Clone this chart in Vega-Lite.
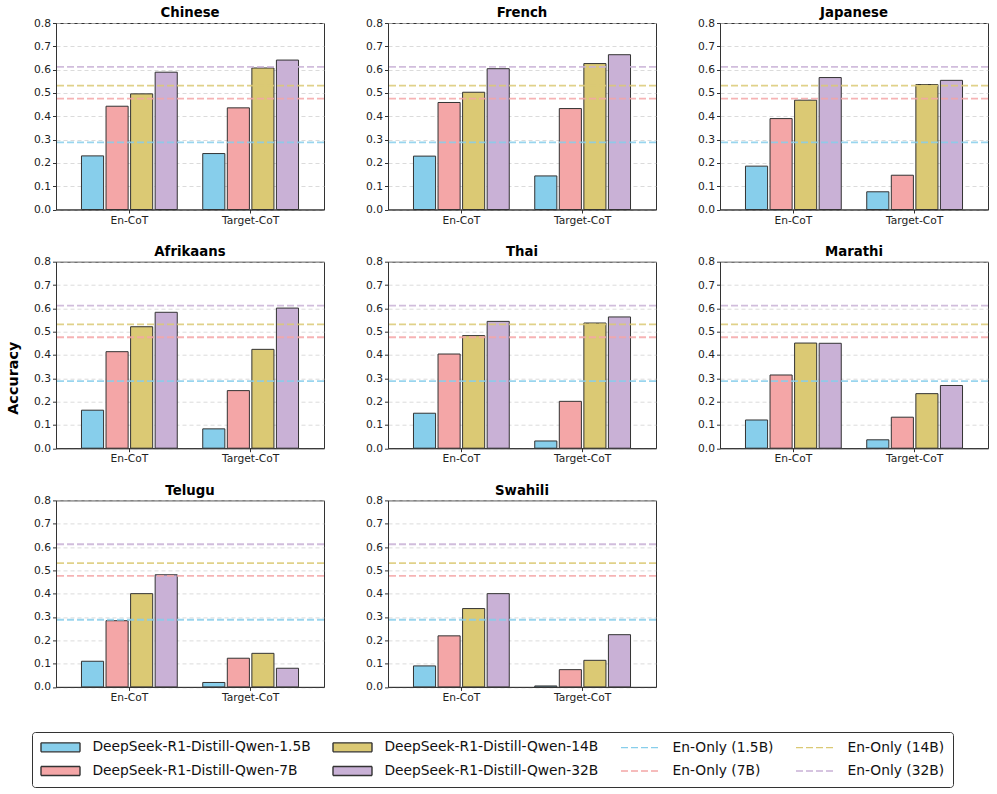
{
  "$schema": "https://vega.github.io/schema/vega-lite/v6.json",
  "background": "white",
  "padding": 5,
  "datasets": {
    "scores": [
      {"lang": "Chinese", "cot": "En-CoT", "series": "DeepSeek-R1-Distill-Qwen-1.5B", "acc": 0.230},
      {"lang": "Chinese", "cot": "En-CoT", "series": "DeepSeek-R1-Distill-Qwen-7B", "acc": 0.443},
      {"lang": "Chinese", "cot": "En-CoT", "series": "DeepSeek-R1-Distill-Qwen-14B", "acc": 0.496},
      {"lang": "Chinese", "cot": "En-CoT", "series": "DeepSeek-R1-Distill-Qwen-32B", "acc": 0.589},
      {"lang": "Chinese", "cot": "Target-CoT", "series": "DeepSeek-R1-Distill-Qwen-1.5B", "acc": 0.240},
      {"lang": "Chinese", "cot": "Target-CoT", "series": "DeepSeek-R1-Distill-Qwen-7B", "acc": 0.436},
      {"lang": "Chinese", "cot": "Target-CoT", "series": "DeepSeek-R1-Distill-Qwen-14B", "acc": 0.607},
      {"lang": "Chinese", "cot": "Target-CoT", "series": "DeepSeek-R1-Distill-Qwen-32B", "acc": 0.641},
      {"lang": "French", "cot": "En-CoT", "series": "DeepSeek-R1-Distill-Qwen-1.5B", "acc": 0.229},
      {"lang": "French", "cot": "En-CoT", "series": "DeepSeek-R1-Distill-Qwen-7B", "acc": 0.459},
      {"lang": "French", "cot": "En-CoT", "series": "DeepSeek-R1-Distill-Qwen-14B", "acc": 0.503},
      {"lang": "French", "cot": "En-CoT", "series": "DeepSeek-R1-Distill-Qwen-32B", "acc": 0.604},
      {"lang": "French", "cot": "Target-CoT", "series": "DeepSeek-R1-Distill-Qwen-1.5B", "acc": 0.144},
      {"lang": "French", "cot": "Target-CoT", "series": "DeepSeek-R1-Distill-Qwen-7B", "acc": 0.433},
      {"lang": "French", "cot": "Target-CoT", "series": "DeepSeek-R1-Distill-Qwen-14B", "acc": 0.626},
      {"lang": "French", "cot": "Target-CoT", "series": "DeepSeek-R1-Distill-Qwen-32B", "acc": 0.664},
      {"lang": "Japanese", "cot": "En-CoT", "series": "DeepSeek-R1-Distill-Qwen-1.5B", "acc": 0.186},
      {"lang": "Japanese", "cot": "En-CoT", "series": "DeepSeek-R1-Distill-Qwen-7B", "acc": 0.390},
      {"lang": "Japanese", "cot": "En-CoT", "series": "DeepSeek-R1-Distill-Qwen-14B", "acc": 0.469},
      {"lang": "Japanese", "cot": "En-CoT", "series": "DeepSeek-R1-Distill-Qwen-32B", "acc": 0.566},
      {"lang": "Japanese", "cot": "Target-CoT", "series": "DeepSeek-R1-Distill-Qwen-1.5B", "acc": 0.076},
      {"lang": "Japanese", "cot": "Target-CoT", "series": "DeepSeek-R1-Distill-Qwen-7B", "acc": 0.147},
      {"lang": "Japanese", "cot": "Target-CoT", "series": "DeepSeek-R1-Distill-Qwen-14B", "acc": 0.536},
      {"lang": "Japanese", "cot": "Target-CoT", "series": "DeepSeek-R1-Distill-Qwen-32B", "acc": 0.554},
      {"lang": "Afrikaans", "cot": "En-CoT", "series": "DeepSeek-R1-Distill-Qwen-1.5B", "acc": 0.163},
      {"lang": "Afrikaans", "cot": "En-CoT", "series": "DeepSeek-R1-Distill-Qwen-7B", "acc": 0.414},
      {"lang": "Afrikaans", "cot": "En-CoT", "series": "DeepSeek-R1-Distill-Qwen-14B", "acc": 0.521},
      {"lang": "Afrikaans", "cot": "En-CoT", "series": "DeepSeek-R1-Distill-Qwen-32B", "acc": 0.583},
      {"lang": "Afrikaans", "cot": "Target-CoT", "series": "DeepSeek-R1-Distill-Qwen-1.5B", "acc": 0.083},
      {"lang": "Afrikaans", "cot": "Target-CoT", "series": "DeepSeek-R1-Distill-Qwen-7B", "acc": 0.247},
      {"lang": "Afrikaans", "cot": "Target-CoT", "series": "DeepSeek-R1-Distill-Qwen-14B", "acc": 0.424},
      {"lang": "Afrikaans", "cot": "Target-CoT", "series": "DeepSeek-R1-Distill-Qwen-32B", "acc": 0.601},
      {"lang": "Thai", "cot": "En-CoT", "series": "DeepSeek-R1-Distill-Qwen-1.5B", "acc": 0.150},
      {"lang": "Thai", "cot": "En-CoT", "series": "DeepSeek-R1-Distill-Qwen-7B", "acc": 0.404},
      {"lang": "Thai", "cot": "En-CoT", "series": "DeepSeek-R1-Distill-Qwen-14B", "acc": 0.483},
      {"lang": "Thai", "cot": "En-CoT", "series": "DeepSeek-R1-Distill-Qwen-32B", "acc": 0.544},
      {"lang": "Thai", "cot": "Target-CoT", "series": "DeepSeek-R1-Distill-Qwen-1.5B", "acc": 0.031},
      {"lang": "Thai", "cot": "Target-CoT", "series": "DeepSeek-R1-Distill-Qwen-7B", "acc": 0.201},
      {"lang": "Thai", "cot": "Target-CoT", "series": "DeepSeek-R1-Distill-Qwen-14B", "acc": 0.537},
      {"lang": "Thai", "cot": "Target-CoT", "series": "DeepSeek-R1-Distill-Qwen-32B", "acc": 0.563},
      {"lang": "Marathi", "cot": "En-CoT", "series": "DeepSeek-R1-Distill-Qwen-1.5B", "acc": 0.121},
      {"lang": "Marathi", "cot": "En-CoT", "series": "DeepSeek-R1-Distill-Qwen-7B", "acc": 0.314},
      {"lang": "Marathi", "cot": "En-CoT", "series": "DeepSeek-R1-Distill-Qwen-14B", "acc": 0.451},
      {"lang": "Marathi", "cot": "En-CoT", "series": "DeepSeek-R1-Distill-Qwen-32B", "acc": 0.450},
      {"lang": "Marathi", "cot": "Target-CoT", "series": "DeepSeek-R1-Distill-Qwen-1.5B", "acc": 0.036},
      {"lang": "Marathi", "cot": "Target-CoT", "series": "DeepSeek-R1-Distill-Qwen-7B", "acc": 0.133},
      {"lang": "Marathi", "cot": "Target-CoT", "series": "DeepSeek-R1-Distill-Qwen-14B", "acc": 0.234},
      {"lang": "Marathi", "cot": "Target-CoT", "series": "DeepSeek-R1-Distill-Qwen-32B", "acc": 0.269},
      {"lang": "Telugu", "cot": "En-CoT", "series": "DeepSeek-R1-Distill-Qwen-1.5B", "acc": 0.110},
      {"lang": "Telugu", "cot": "En-CoT", "series": "DeepSeek-R1-Distill-Qwen-7B", "acc": 0.284},
      {"lang": "Telugu", "cot": "En-CoT", "series": "DeepSeek-R1-Distill-Qwen-14B", "acc": 0.400},
      {"lang": "Telugu", "cot": "En-CoT", "series": "DeepSeek-R1-Distill-Qwen-32B", "acc": 0.481},
      {"lang": "Telugu", "cot": "Target-CoT", "series": "DeepSeek-R1-Distill-Qwen-1.5B", "acc": 0.019},
      {"lang": "Telugu", "cot": "Target-CoT", "series": "DeepSeek-R1-Distill-Qwen-7B", "acc": 0.123},
      {"lang": "Telugu", "cot": "Target-CoT", "series": "DeepSeek-R1-Distill-Qwen-14B", "acc": 0.144},
      {"lang": "Telugu", "cot": "Target-CoT", "series": "DeepSeek-R1-Distill-Qwen-32B", "acc": 0.080},
      {"lang": "Swahili", "cot": "En-CoT", "series": "DeepSeek-R1-Distill-Qwen-1.5B", "acc": 0.090},
      {"lang": "Swahili", "cot": "En-CoT", "series": "DeepSeek-R1-Distill-Qwen-7B", "acc": 0.219},
      {"lang": "Swahili", "cot": "En-CoT", "series": "DeepSeek-R1-Distill-Qwen-14B", "acc": 0.336},
      {"lang": "Swahili", "cot": "En-CoT", "series": "DeepSeek-R1-Distill-Qwen-32B", "acc": 0.400},
      {"lang": "Swahili", "cot": "Target-CoT", "series": "DeepSeek-R1-Distill-Qwen-1.5B", "acc": 0.004},
      {"lang": "Swahili", "cot": "Target-CoT", "series": "DeepSeek-R1-Distill-Qwen-7B", "acc": 0.074},
      {"lang": "Swahili", "cot": "Target-CoT", "series": "DeepSeek-R1-Distill-Qwen-14B", "acc": 0.114},
      {"lang": "Swahili", "cot": "Target-CoT", "series": "DeepSeek-R1-Distill-Qwen-32B", "acc": 0.224}
    ],
    "baselines": [
      {"series": "En-Only (1.5B)", "acc": 0.288},
      {"series": "En-Only (7B)", "acc": 0.476},
      {"series": "En-Only (14B)", "acc": 0.531},
      {"series": "En-Only (32B)", "acc": 0.612}
    ]
  },
  "columns": 3,
  "spacing": {"row": 51.7, "column": 64},
  "bounds": "flush",
  "resolve": {"scale": {"fill": "shared", "stroke": "shared", "strokeDash": "shared"}},
  "concat": [
    {"title": "Chinese", "width": 268, "height": 186.5, "layer": [
      {"data": {"name": "scores"}, "transform": [{"filter": "datum.lang === 'Chinese'"}],
       "mark": {"type": "bar", "stroke": "#333333", "strokeWidth": 1},
       "encoding": {
         "x": {"field": "cot", "type": "nominal", "title": null, "sort": ["En-CoT", "Target-CoT"], "scale": {"paddingInner": 0.19, "paddingOuter": 0.2}},
         "xOffset": {"field": "series", "type": "nominal", "scale": {"domain": ["DeepSeek-R1-Distill-Qwen-1.5B", "DeepSeek-R1-Distill-Qwen-7B", "DeepSeek-R1-Distill-Qwen-14B", "DeepSeek-R1-Distill-Qwen-32B"], "paddingInner": 0.1, "paddingOuter": 0.05}},
         "y": {"field": "acc", "type": "quantitative", "title": null, "scale": {"domain": [0, 0.8], "nice": false}},
         "fill": {"field": "series", "type": "nominal",
           "scale": {
             "domain": ["DeepSeek-R1-Distill-Qwen-1.5B", "DeepSeek-R1-Distill-Qwen-14B", "En-Only (1.5B)", "En-Only (14B)", "DeepSeek-R1-Distill-Qwen-7B", "DeepSeek-R1-Distill-Qwen-32B", "En-Only (7B)", "En-Only (32B)"],
             "range": ["#87CEEB", "#DBC974", "transparent", "transparent", "#F4A6A7", "#C9B1D6", "transparent", "transparent"]
           },
           "legend": {
             "title": null, "orient": "none", "legendX": -24, "legendY": 709,
             "direction": "horizontal", "columns": 4,
             "symbolType": "M-1,-0.75H5.5V0.75H-1Z", "symbolSize": 144,
             "symbolStrokeWidth": 1.4, "symbolOpacity": 1,
             "labelFont": "DejaVu Sans", "labelFontSize": 13.8, "labelColor": "#111111", "labelOffset": 38.5, "labelLimit": 400,
             "columnPadding": 19, "rowPadding": 8, "padding": 8,
             "strokeColor": "#333333", "fillColor": "white", "cornerRadius": 3,
             "encoding": {
               "symbols": {
                 "shape": {"value": {"expr": "indexof(datum.value, 'En-Only') === 0 ? 'M-1,0H5.5' : 'M-1,-0.75H5.5V0.75H-1Z'"}}
               }
             }
           }
         }
       }},
      {"data": {"name": "baselines"}, "mark": {"type": "rule", "strokeWidth": 1.8, "opacity": 0.85},
       "encoding": {"y": {"field": "acc", "type": "quantitative"},
         "stroke": {"field": "series", "type": "nominal",
           "scale": {
             "domain": ["DeepSeek-R1-Distill-Qwen-1.5B", "DeepSeek-R1-Distill-Qwen-14B", "En-Only (1.5B)", "En-Only (14B)", "DeepSeek-R1-Distill-Qwen-7B", "DeepSeek-R1-Distill-Qwen-32B", "En-Only (7B)", "En-Only (32B)"],
             "range": ["#333333", "#333333", "#87CEEB", "#DBC974", "#333333", "#333333", "#F4A6A7", "#C9B1D6"]
           },
           "legend": {"title": null}
         },
         "strokeDash": {"field": "series", "type": "nominal",
           "scale": {
             "domain": ["DeepSeek-R1-Distill-Qwen-1.5B", "DeepSeek-R1-Distill-Qwen-14B", "En-Only (1.5B)", "En-Only (14B)", "DeepSeek-R1-Distill-Qwen-7B", "DeepSeek-R1-Distill-Qwen-32B", "En-Only (7B)", "En-Only (32B)"],
             "range": [[1, 0], [1, 0], [7, 3], [7, 3], [1, 0], [1, 0], [7, 3], [7, 3]]
           },
           "legend": {"title": null}
         }}}
    ]},
    {"title": "French", "width": 268, "height": 186.5, "layer": [
      {"data": {"name": "scores"}, "transform": [{"filter": "datum.lang === 'French'"}],
       "mark": {"type": "bar", "stroke": "#333333", "strokeWidth": 1},
       "encoding": {
         "x": {"field": "cot", "type": "nominal", "title": null, "sort": ["En-CoT", "Target-CoT"], "scale": {"paddingInner": 0.19, "paddingOuter": 0.2}},
         "xOffset": {"field": "series", "type": "nominal", "scale": {"domain": ["DeepSeek-R1-Distill-Qwen-1.5B", "DeepSeek-R1-Distill-Qwen-7B", "DeepSeek-R1-Distill-Qwen-14B", "DeepSeek-R1-Distill-Qwen-32B"], "paddingInner": 0.1, "paddingOuter": 0.05}},
         "y": {"field": "acc", "type": "quantitative", "title": null, "scale": {"domain": [0, 0.8], "nice": false}},
         "fill": {"field": "series", "type": "nominal"}
       }},
      {"data": {"name": "baselines"}, "mark": {"type": "rule", "strokeWidth": 1.8, "opacity": 0.85},
       "encoding": {"y": {"field": "acc", "type": "quantitative"}, "stroke": {"field": "series", "type": "nominal"}, "strokeDash": {"field": "series", "type": "nominal"}}}
    ]},
    {"title": "Japanese", "width": 268, "height": 186.5, "layer": [
      {"data": {"name": "scores"}, "transform": [{"filter": "datum.lang === 'Japanese'"}],
       "mark": {"type": "bar", "stroke": "#333333", "strokeWidth": 1},
       "encoding": {
         "x": {"field": "cot", "type": "nominal", "title": null, "sort": ["En-CoT", "Target-CoT"], "scale": {"paddingInner": 0.19, "paddingOuter": 0.2}},
         "xOffset": {"field": "series", "type": "nominal", "scale": {"domain": ["DeepSeek-R1-Distill-Qwen-1.5B", "DeepSeek-R1-Distill-Qwen-7B", "DeepSeek-R1-Distill-Qwen-14B", "DeepSeek-R1-Distill-Qwen-32B"], "paddingInner": 0.1, "paddingOuter": 0.05}},
         "y": {"field": "acc", "type": "quantitative", "title": null, "scale": {"domain": [0, 0.8], "nice": false}},
         "fill": {"field": "series", "type": "nominal"}
       }},
      {"data": {"name": "baselines"}, "mark": {"type": "rule", "strokeWidth": 1.8, "opacity": 0.85},
       "encoding": {"y": {"field": "acc", "type": "quantitative"}, "stroke": {"field": "series", "type": "nominal"}, "strokeDash": {"field": "series", "type": "nominal"}}}
    ]},
    {"title": "Afrikaans", "width": 268, "height": 186.5, "layer": [
      {"data": {"name": "scores"}, "transform": [{"filter": "datum.lang === 'Afrikaans'"}],
       "mark": {"type": "bar", "stroke": "#333333", "strokeWidth": 1},
       "encoding": {
         "x": {"field": "cot", "type": "nominal", "title": null, "sort": ["En-CoT", "Target-CoT"], "scale": {"paddingInner": 0.19, "paddingOuter": 0.2}},
         "xOffset": {"field": "series", "type": "nominal", "scale": {"domain": ["DeepSeek-R1-Distill-Qwen-1.5B", "DeepSeek-R1-Distill-Qwen-7B", "DeepSeek-R1-Distill-Qwen-14B", "DeepSeek-R1-Distill-Qwen-32B"], "paddingInner": 0.1, "paddingOuter": 0.05}},
         "y": {"field": "acc", "type": "quantitative", "title": "Accuracy", "scale": {"domain": [0, 0.8], "nice": false},
               "axis": {"titleFontSize": 14.4, "titleFontWeight": "bold", "titlePadding": 13, "titleY": 116, "titleColor": "#000000"}},
         "fill": {"field": "series", "type": "nominal"}
       }},
      {"data": {"name": "baselines"}, "mark": {"type": "rule", "strokeWidth": 1.8, "opacity": 0.85},
       "encoding": {"y": {"field": "acc", "type": "quantitative"}, "stroke": {"field": "series", "type": "nominal"}, "strokeDash": {"field": "series", "type": "nominal"}}}
    ]},
    {"title": "Thai", "width": 268, "height": 186.5, "layer": [
      {"data": {"name": "scores"}, "transform": [{"filter": "datum.lang === 'Thai'"}],
       "mark": {"type": "bar", "stroke": "#333333", "strokeWidth": 1},
       "encoding": {
         "x": {"field": "cot", "type": "nominal", "title": null, "sort": ["En-CoT", "Target-CoT"], "scale": {"paddingInner": 0.19, "paddingOuter": 0.2}},
         "xOffset": {"field": "series", "type": "nominal", "scale": {"domain": ["DeepSeek-R1-Distill-Qwen-1.5B", "DeepSeek-R1-Distill-Qwen-7B", "DeepSeek-R1-Distill-Qwen-14B", "DeepSeek-R1-Distill-Qwen-32B"], "paddingInner": 0.1, "paddingOuter": 0.05}},
         "y": {"field": "acc", "type": "quantitative", "title": null, "scale": {"domain": [0, 0.8], "nice": false}},
         "fill": {"field": "series", "type": "nominal"}
       }},
      {"data": {"name": "baselines"}, "mark": {"type": "rule", "strokeWidth": 1.8, "opacity": 0.85},
       "encoding": {"y": {"field": "acc", "type": "quantitative"}, "stroke": {"field": "series", "type": "nominal"}, "strokeDash": {"field": "series", "type": "nominal"}}}
    ]},
    {"title": "Marathi", "width": 268, "height": 186.5, "layer": [
      {"data": {"name": "scores"}, "transform": [{"filter": "datum.lang === 'Marathi'"}],
       "mark": {"type": "bar", "stroke": "#333333", "strokeWidth": 1},
       "encoding": {
         "x": {"field": "cot", "type": "nominal", "title": null, "sort": ["En-CoT", "Target-CoT"], "scale": {"paddingInner": 0.19, "paddingOuter": 0.2}},
         "xOffset": {"field": "series", "type": "nominal", "scale": {"domain": ["DeepSeek-R1-Distill-Qwen-1.5B", "DeepSeek-R1-Distill-Qwen-7B", "DeepSeek-R1-Distill-Qwen-14B", "DeepSeek-R1-Distill-Qwen-32B"], "paddingInner": 0.1, "paddingOuter": 0.05}},
         "y": {"field": "acc", "type": "quantitative", "title": null, "scale": {"domain": [0, 0.8], "nice": false}},
         "fill": {"field": "series", "type": "nominal"}
       }},
      {"data": {"name": "baselines"}, "mark": {"type": "rule", "strokeWidth": 1.8, "opacity": 0.85},
       "encoding": {"y": {"field": "acc", "type": "quantitative"}, "stroke": {"field": "series", "type": "nominal"}, "strokeDash": {"field": "series", "type": "nominal"}}}
    ]},
    {"title": "Telugu", "width": 268, "height": 186.5, "layer": [
      {"data": {"name": "scores"}, "transform": [{"filter": "datum.lang === 'Telugu'"}],
       "mark": {"type": "bar", "stroke": "#333333", "strokeWidth": 1},
       "encoding": {
         "x": {"field": "cot", "type": "nominal", "title": null, "sort": ["En-CoT", "Target-CoT"], "scale": {"paddingInner": 0.19, "paddingOuter": 0.2}},
         "xOffset": {"field": "series", "type": "nominal", "scale": {"domain": ["DeepSeek-R1-Distill-Qwen-1.5B", "DeepSeek-R1-Distill-Qwen-7B", "DeepSeek-R1-Distill-Qwen-14B", "DeepSeek-R1-Distill-Qwen-32B"], "paddingInner": 0.1, "paddingOuter": 0.05}},
         "y": {"field": "acc", "type": "quantitative", "title": null, "scale": {"domain": [0, 0.8], "nice": false}},
         "fill": {"field": "series", "type": "nominal"}
       }},
      {"data": {"name": "baselines"}, "mark": {"type": "rule", "strokeWidth": 1.8, "opacity": 0.85},
       "encoding": {"y": {"field": "acc", "type": "quantitative"}, "stroke": {"field": "series", "type": "nominal"}, "strokeDash": {"field": "series", "type": "nominal"}}}
    ]},
    {"title": "Swahili", "width": 268, "height": 186.5, "layer": [
      {"data": {"name": "scores"}, "transform": [{"filter": "datum.lang === 'Swahili'"}],
       "mark": {"type": "bar", "stroke": "#333333", "strokeWidth": 1},
       "encoding": {
         "x": {"field": "cot", "type": "nominal", "title": null, "sort": ["En-CoT", "Target-CoT"], "scale": {"paddingInner": 0.19, "paddingOuter": 0.2}},
         "xOffset": {"field": "series", "type": "nominal", "scale": {"domain": ["DeepSeek-R1-Distill-Qwen-1.5B", "DeepSeek-R1-Distill-Qwen-7B", "DeepSeek-R1-Distill-Qwen-14B", "DeepSeek-R1-Distill-Qwen-32B"], "paddingInner": 0.1, "paddingOuter": 0.05}},
         "y": {"field": "acc", "type": "quantitative", "title": null, "scale": {"domain": [0, 0.8], "nice": false}},
         "fill": {"field": "series", "type": "nominal"}
       }},
      {"data": {"name": "baselines"}, "mark": {"type": "rule", "strokeWidth": 1.8, "opacity": 0.85},
       "encoding": {"y": {"field": "acc", "type": "quantitative"}, "stroke": {"field": "series", "type": "nominal"}, "strokeDash": {"field": "series", "type": "nominal"}}}
    ]}
  ],
  "config": {
    "font": "DejaVu Sans",
    "view": {"stroke": "#333333", "strokeWidth": 1},
    "title": {"font": "DejaVu Sans", "fontSize": 13.3, "fontWeight": "bold", "offset": -2.5, "color": "#000000", "anchor": "middle"},
    "axis": {"labelFont": "DejaVu Sans", "labelFontSize": 10.7, "labelColor": "#222222", "tickColor": "#333333", "tickSize": 3.5, "domainColor": "#333333", "titleFont": "DejaVu Sans"},
    "axisX": {"labelAngle": 0, "grid": false, "labelPadding": 2},
    "axisY": {"tickCount": 8, "grid": true, "gridColor": "#cccccc", "gridDash": [4, 3], "gridOpacity": 0.7, "labelPadding": 2}
  }
}
